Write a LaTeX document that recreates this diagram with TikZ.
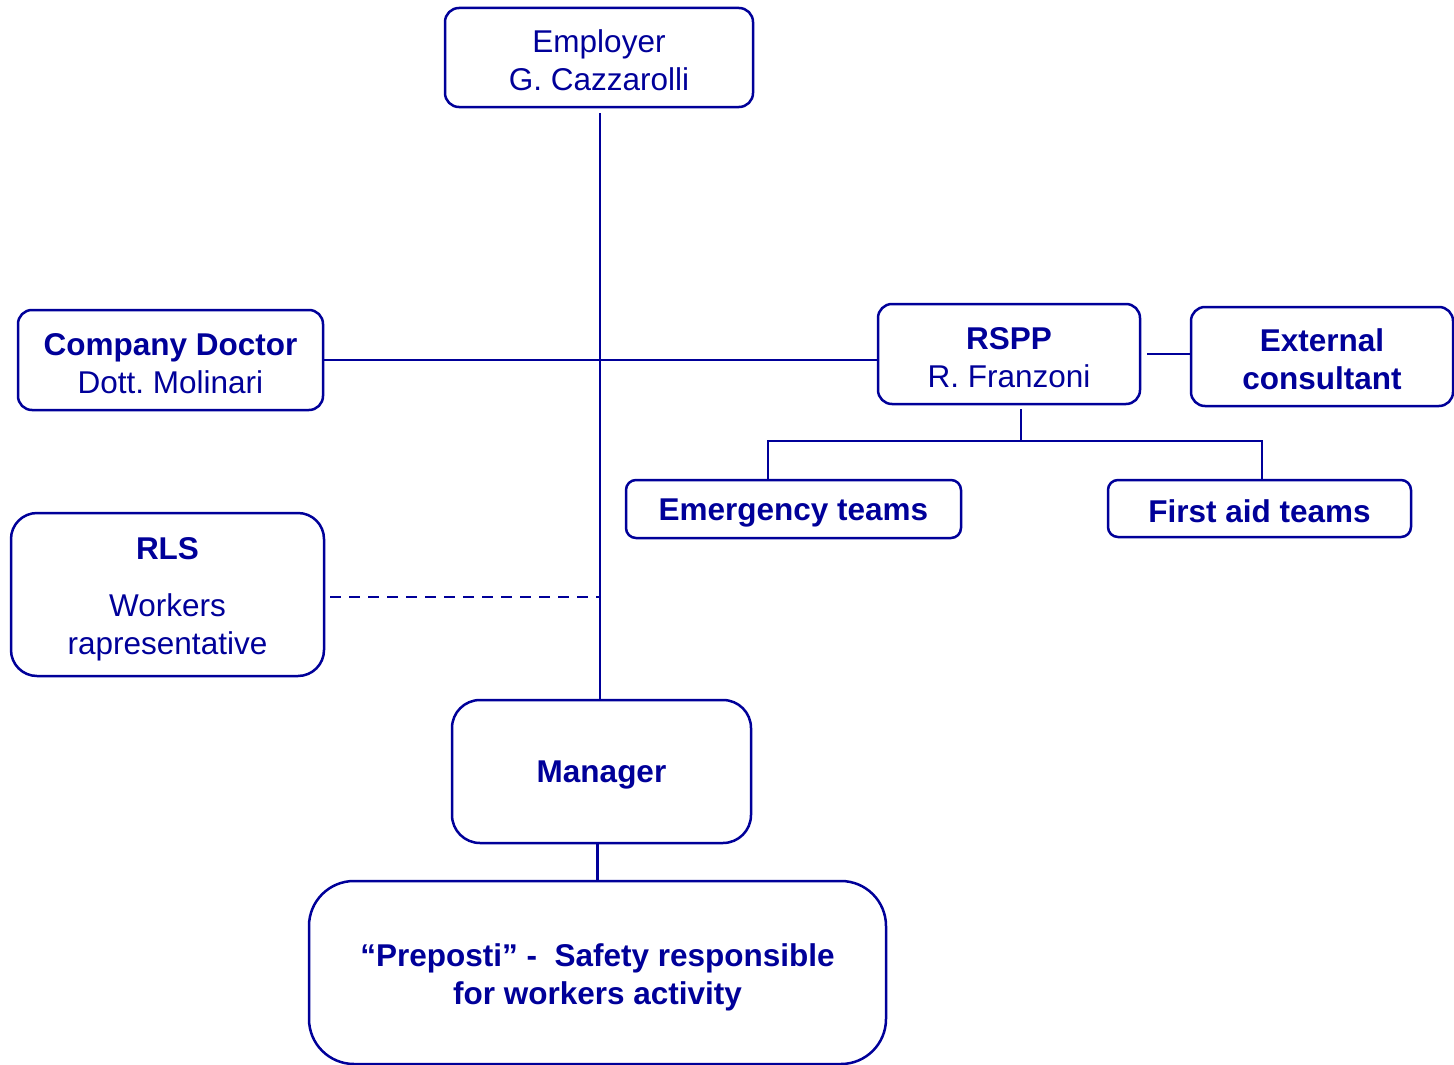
\documentclass[tikz,border=0pt]{standalone}
\usepackage{fontspec}
\setmainfont{Liberation Sans}
\definecolor{orgblue}{HTML}{000099}
\frenchspacing
\newcommand\lift{\rule{0pt}{29pt}}

\begin{document}
\begin{tikzpicture}[x=1pt,y=-1pt,
  link/.style={draw=orgblue, line width=2.8pt},
  box/.style={draw=orgblue, line width=2.5pt, rounded corners=14pt, align=center, inner sep=0pt,
              text=orgblue, font=\fontsize{31.5}{38}\selectfont},
  bbox/.style={box, font=\fontsize{31.5}{38}\selectfont\bfseries}]

\useasboundingbox (0,0) rectangle (1454,1065);

\node[box, minimum width=308pt, minimum height=99pt] (employer) at (599,57.5) {\lift Employer\\G. Cazzarolli};
\node[box, minimum width=305pt, minimum height=100pt] (doctor) at (170.5,360) {\lift\textbf{Company Doctor}\\Dott. Molinari};
\node[box, minimum width=262pt, minimum height=100pt] (rspp) at (1009,354) {\lift\textbf{RSPP}\\R. Franzoni};
\node[bbox, minimum width=262pt, minimum height=99pt] (ext) at (1322,356.5) {\lift External\\consultant};
\node[bbox, rounded corners=10pt, minimum width=335pt, minimum height=58pt] (emerg) at (793.5,509) {\lift Emergency teams};
\node[bbox, rounded corners=10pt, minimum width=303pt, minimum height=57pt] (aid) at (1259.5,508.5) {\lift First aid teams};
\node[box, rounded corners=26pt, minimum width=313pt, minimum height=163pt] (rls) at (167.5,594.5) {\rule{0pt}{32pt}\textbf{RLS}\\[19pt]Workers\\rapresentative};
\node[bbox, rounded corners=28pt, minimum width=299pt, minimum height=143pt] (manager) at (601.5,771.5) {\lift Manager};
\node[bbox, rounded corners=45pt, minimum width=577pt, minimum height=183pt] (preposti) at (597.5,972.5) {\rule{0pt}{32pt}“Preposti” -~ Safety responsible\\for workers activity};

\coordinate (split) at (1021,441);
\coordinate (eL) at (768,441);
\coordinate (eR) at (1262,441);
\coordinate (rlsdash) at (600,597);

\draw[link, shorten <=5pt] (employer.south -| manager.north) ++(-1.5,0) -- ++(0,593);
\draw[link] (doctor.east) -- (doctor.east -| rspp.west);
\draw[link, shorten <=6pt] (rspp.east) -- (rspp.east -| ext.west);
\draw[link, shorten <=4pt] (split |- rspp.south) -- (split);
\draw[link] (eL |- emerg.north) -- (eL) -- (eR) -- (eR |- aid.north);
\draw[link, dash pattern=on 11pt off 8pt, shorten <=5pt] (rls.east |- rlsdash) -- (rlsdash);
\draw[link] (preposti.north |- manager.south) -- (preposti.north);
\end{tikzpicture}
\end{document}
